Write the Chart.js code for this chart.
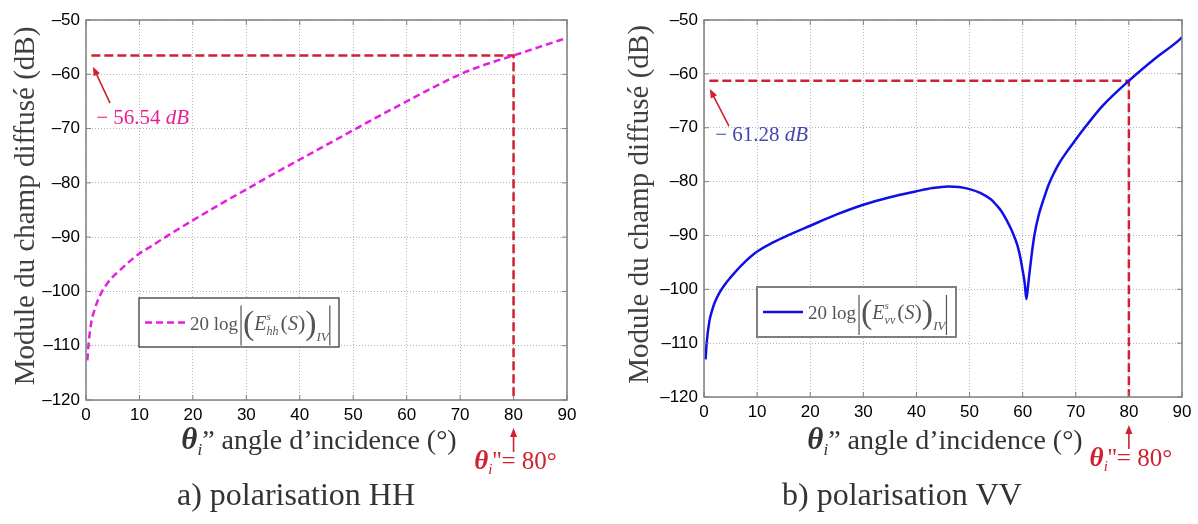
<!DOCTYPE html>
<html>
<head>
<meta charset="utf-8">
<script src="https://cdn.jsdelivr.net/npm/chart.js@4.4.1/dist/chart.umd.min.js"></script>
<style>
    body { margin: 0; background: #fff; }
    #wrap { position: relative; width: 1198px; height: 524px; }
    .box { position: absolute; top: 0; height: 524px; }
</style>
</head>
<body>
<div id="wrap">
    <div class="box" style="left:0;width:600px"><canvas id="chartHH"></canvas></div>
    <div class="box" style="left:600px;width:598px"><canvas id="chartVV"></canvas></div>
</div>
<script>
// angles d'incidence (deg) et module (dB)
const thetaHH = [0.25, 0.5, 1, 1.5, 2, 3, 4, 5, 6, 8, 10, 12, 15, 20, 25, 30, 35, 40, 45, 50, 55, 60, 65, 70, 75, 80, 85, 90];
const dbHH = [-112.7, -109.5, -105.6, -103.7, -102.2, -100.0, -98.5, -97.3, -96.4, -94.6, -93.0, -91.8, -89.9, -86.9, -84.0, -81.2, -78.4, -75.7, -73.0, -70.3, -67.6, -65.0, -62.4, -60.0, -58.1, -56.54, -54.9, -53.3];

const thetaVV = [0.3, 0.5, 1, 1.5, 2, 3, 4, 5, 7, 10, 13, 16, 20, 25, 30, 35, 40, 43, 46, 48, 50, 52, 54, 55, 56, 57, 58, 59, 59.5, 60, 60.4, 60.7, 61, 61.3, 61.7, 62.2, 63, 64, 65, 66, 67, 68, 70, 72, 75, 80, 85, 89.5, 90];
const dbVV = [-113, -110, -106, -104, -102.5, -100.5, -99, -97.8, -95.6, -93.0, -91.3, -89.9, -88.2, -86.1, -84.3, -82.9, -81.8, -81.2, -80.9, -81.0, -81.4, -82.1, -83.3, -84.3, -85.5, -87.2, -89.2, -91.8, -93.8, -96.5, -99.0, -101.8, -99.5, -96.8, -93.5, -90.0, -86.3, -83.1, -80.3, -78.2, -76.4, -74.9, -72.2, -69.6, -66.0, -61.28, -57.1, -53.7, -53.2];

const xTicks = [0, 10, 20, 30, 40, 50, 60, 70, 80, 90];
const yTicks = [-50, -60, -70, -80, -90, -100, -110, -120];

const angleRef = 80;
const dbRefHH = -56.54;
const dbRefVV = -61.28;

const SERIF = '"Liberation Serif", "DejaVu Serif", serif';
const SANS = '"Liberation Sans", Arial, sans-serif';
const RED = '#cf2230';

function toPoints(xs, ys) {
    return xs.map((v, i) => ({ x: v, y: ys[i] }));
}

function refLine(db) {
    return [{ x: 1, y: db }, { x: angleRef, y: db }, { x: angleRef, y: -120 }];
}

function arrow(ctx, x1, y1, x2, y2, color) {
    const ang = Math.atan2(y2 - y1, x2 - x1), L = 9, W = 3.5;
    ctx.strokeStyle = color; ctx.fillStyle = color; ctx.lineWidth = 1.6; ctx.setLineDash([]);
    ctx.beginPath(); ctx.moveTo(x1, y1); ctx.lineTo(x2 - Math.cos(ang) * L * 0.7, y2 - Math.sin(ang) * L * 0.7); ctx.stroke();
    ctx.beginPath();
    ctx.moveTo(x2, y2);
    ctx.lineTo(x2 - Math.cos(ang) * L + Math.sin(ang) * W, y2 - Math.sin(ang) * L - Math.cos(ang) * W);
    ctx.lineTo(x2 - Math.cos(ang) * L - Math.sin(ang) * W, y2 - Math.sin(ang) * L + Math.cos(ang) * W);
    ctx.closePath(); ctx.fill();
}

// morceaux de texte enchainés : [texte, police, decalage vertical]
function runs(ctx, parts, x, y, measureOnly) {
    let w = 0;
    parts.forEach(p => {
        ctx.font = p[1];
        if (!measureOnly) ctx.fillText(p[0], x + w, y + (p[2] || 0));
        w += ctx.measureText(p[0]).width + (p[3] || 0);
    });
    return w;
}

function formula(ctx, x, y, sub, col) {
    ctx.fillStyle = col; ctx.strokeStyle = col; ctx.lineWidth = 1.2; ctx.setLineDash([]);
    const bar = (bx) => { ctx.beginPath(); ctx.moveTo(bx, y - 24); ctx.lineTo(bx, y + 16); ctx.stroke(); };
    ctx.textBaseline = 'alphabetic'; ctx.textAlign = 'left';
    x += runs(ctx, [['20 log', '19px ' + SERIF]], x, y) + 3;
    bar(x); x += 2;
    x += runs(ctx, [['(', '34px ' + SERIF, 4]], x, y);
    x += runs(ctx, [['E', 'italic 20px ' + SERIF]], x, y);
    ctx.font = 'italic 11px ' + SERIF; ctx.fillText('s', x, y - 10);
    x += runs(ctx, [[sub, 'italic 12px ' + SERIF, 5]], x, y) + 2;
    x += runs(ctx, [['(', '22px ' + SERIF], ['S', 'italic 20px ' + SERIF], [')', '22px ' + SERIF]], x, y);
    x += runs(ctx, [[')', '34px ' + SERIF, 4]], x, y);
    x += runs(ctx, [['IV', 'italic 13px ' + SERIF, 11]], x, y) + 1;
    bar(x);
}

const decoPlugin = {
    id: 'deco',
    afterDraw(chart, args, o) {
        const ctx = chart.ctx, a = chart.chartArea, sx = chart.scales.x, sy = chart.scales.y;
        const px = v => sx.getPixelForValue(v), py = v => sy.getPixelForValue(v);
        ctx.save();

        // petites graduations internes + cadre
        ctx.strokeStyle = '#808080'; ctx.lineWidth = 1; ctx.setLineDash([]);
        ctx.beginPath();
        xTicks.forEach(v => { ctx.moveTo(px(v), a.bottom); ctx.lineTo(px(v), a.bottom - 5); ctx.moveTo(px(v), a.top); ctx.lineTo(px(v), a.top + 5); });
        yTicks.forEach(v => { ctx.moveTo(a.left, py(v)); ctx.lineTo(a.left + 5, py(v)); ctx.moveTo(a.right, py(v)); ctx.lineTo(a.right - 5, py(v)); });
        ctx.stroke();
        ctx.lineWidth = 1.5;
        ctx.strokeRect(a.left, a.top, a.right - a.left, a.bottom - a.top);

        // legende
        const b = o.legend;
        const bx = a.left + b.dx, by = a.top + b.dy;
        ctx.fillStyle = '#fff'; ctx.fillRect(bx, by, b.w, b.h);
        ctx.strokeStyle = b.border; ctx.lineWidth = b.lw; ctx.strokeRect(bx, by, b.w, b.h);
        ctx.strokeStyle = o.curveColor; ctx.lineWidth = 2.5; ctx.setLineDash(o.curveDash);
        ctx.beginPath(); ctx.moveTo(bx + 6, by + b.h / 2); ctx.lineTo(bx + 46, by + b.h / 2); ctx.stroke();
        formula(ctx, bx + 51, by + b.h / 2 + 7, o.sub, '#555');

        // valeur lue a 80 deg
        arrow(ctx, px(o.arrow[0]), py(o.arrow[1]), px(o.arrow[2]), py(o.arrow[3]), RED);
        ctx.fillStyle = o.valueColor; ctx.textBaseline = 'middle'; ctx.textAlign = 'left';
        runs(ctx, [[o.valueText + ' ', '21px ' + SERIF], ['dB', 'italic 21px ' + SERIF]], px(o.valuePos[0]), py(o.valuePos[1]));

        // theta_i'' = 80 deg
        const x80 = px(angleRef);
        arrow(ctx, x80, a.bottom + 52, x80, a.bottom + 28, RED);
        ctx.fillStyle = RED; ctx.textBaseline = 'alphabetic';
        const lab = [['\u03b8', 'italic bold 27px ' + SERIF], ['i', 'italic 15px ' + SERIF, 5], ["''= 80\u00b0", '25px ' + SERIF]];
        const wl = runs(ctx, lab, 0, 0, true);
        runs(ctx, lab, x80 - wl / 2 + 2, a.bottom + 69);

        // titre de l'axe x
        ctx.fillStyle = '#333';
        const xt = [['\u03b8', 'italic bold 31px ' + SERIF], ['i', 'italic 17px ' + SERIF, 6], ['\u201d angle d\u2019incidence (\u00b0)', '28px ' + SERIF]];
        const wx = runs(ctx, xt, 0, 0, true);
        runs(ctx, xt, o.xTitleX - wx / 2, 449);

        // sous-titre
        ctx.font = '32px ' + SERIF; ctx.textAlign = 'center'; ctx.textBaseline = 'middle';
        ctx.fillText(o.caption, o.captionX, 497);

        // titre de l'axe y
        ctx.save();
        ctx.translate(a.left - o.yTitleOff, (a.top + a.bottom) / 2 - 4);
        ctx.rotate(-Math.PI / 2);
        ctx.fillStyle = '#404040'; ctx.font = '29px ' + SERIF;
        ctx.fillText('Module du champ diffus\u00e9 (dB)', 0, 0);
        ctx.restore();

        ctx.restore();
    }
};

function makeChart(id, theta, db, dbRef, curve, deco, pad) {
    return new Chart(document.getElementById(id), {
        type: 'scatter',
        data: {
            datasets: [{
                data: toPoints(theta, db),
                showLine: true,
                borderColor: curve.color,
                borderWidth: 2.5,
                borderDash: curve.dash,
                pointRadius: 0,
                cubicInterpolationMode: 'monotone',
            }, {
                data: refLine(dbRef),
                showLine: true,
                borderColor: RED,
                borderWidth: 2.5,
                borderDash: [9, 4],
                pointRadius: 0,
            }]
        },
        options: {
            responsive: true,
            maintainAspectRatio: false,
            animation: false,
            layout: { padding: pad },
            plugins: {
                legend: { display: false },
                tooltip: { enabled: false },
                deco: deco
            },
            scales: {
                x: {
                    type: 'linear', min: 0, max: 90,
                    afterBuildTicks: s => { s.ticks = xTicks.map(v => ({ value: v })); },
                    afterFit: s => { s.height = 30; },
                    ticks: { autoSkip: false, maxRotation: 0, padding: 5, color: '#000', font: { family: SANS, size: 17 } },
                    grid: { color: '#b4b4b4', drawTicks: false },
                    border: { display: false, dash: [1, 2] }
                },
                y: {
                    min: -120, max: -50,
                    afterBuildTicks: s => { s.ticks = yTicks.map(v => ({ value: v })); },
                    afterFit: s => { s.width = 82; },
                    ticks: { padding: 6, color: '#000', font: { family: SANS, size: 17 }, callback: v => String(v).replace('-', '\u2013') },
                    grid: { color: '#b4b4b4', drawTicks: false },
                    border: { display: false, dash: [1, 2] }
                }
            }
        },
        plugins: [decoPlugin]
    });
}

makeChart('chartHH', thetaHH, dbHH, dbRefHH,
    { color: '#e61ee0', dash: [7, 4] },
    {
        curveColor: '#e61ee0', curveDash: [7, 4], sub: 'hh',
        legend: { dx: 53, dy: 278, w: 200, h: 49, border: '#3a3a3a', lw: 1.3 },
        valueText: '\u2212 56.54', valueColor: '#e8208f', valuePos: [1.9, -68.1], arrow: [4.5, -65.3, 1.3, -58.6],
        xTitleX: 319, caption: 'a) polarisation HH', captionX: 296, yTitleOff: 60
    },
    { left: 4, right: 33, top: 20, bottom: 94 });

makeChart('chartVV', thetaVV, dbVV, dbRefVV,
    { color: '#1010e6', dash: [] },
    {
        curveColor: '#1010e6', curveDash: [], sub: 'vv',
        legend: { dx: 53, dy: 267, w: 199, h: 50, border: '#808080', lw: 2 },
        valueText: '\u2212 61.28', valueColor: '#4646b0', valuePos: [2.1, -71.5], arrow: [4.7, -69.7, 1.1, -62.8],
        xTitleX: 345, caption: 'b) polarisation VV', captionX: 302, yTitleOff: 64
    },
    { left: 22, right: 16, top: 20, bottom: 97 });
</script>
</body>
</html>
